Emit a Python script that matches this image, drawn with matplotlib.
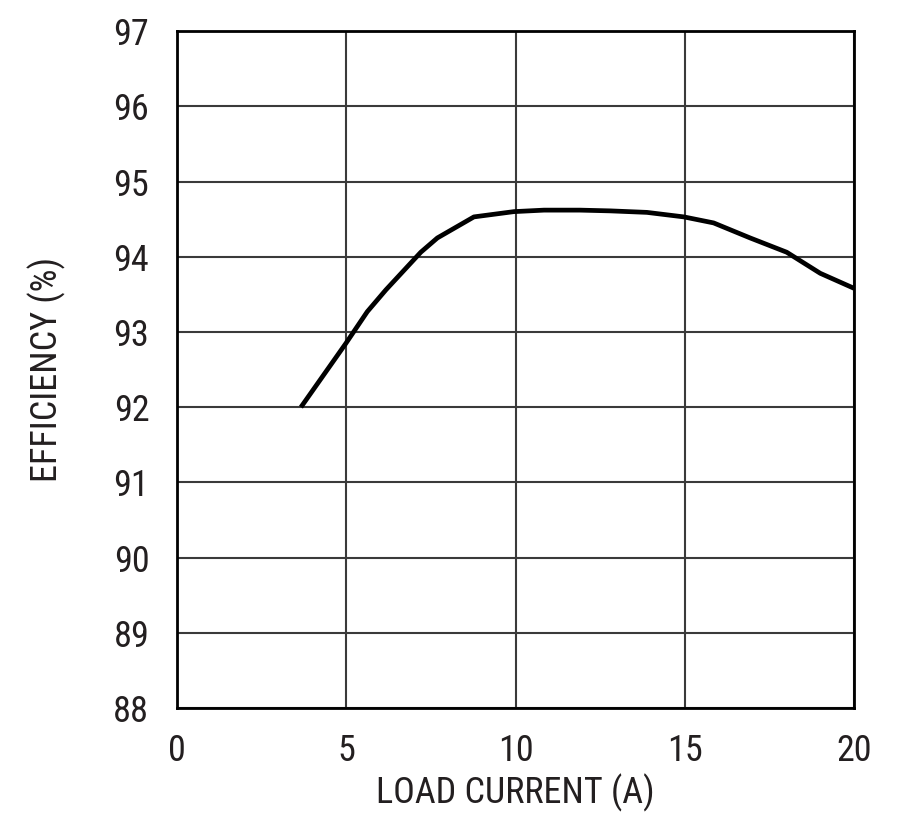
import matplotlib
matplotlib.use("Agg")
import matplotlib.pyplot as plt
from matplotlib import font_manager

# Look for a condensed sans face (the reference uses a narrow Helvetica-like font)
cand = None
pref = ['Liberation Sans Narrow', 'Roboto Condensed', 'Open Sans Condensed', 'Noto Sans Condensed',
        'DejaVu Sans Condensed', 'Arial Narrow']
entries = font_manager.fontManager.ttflist
for p in pref:
    for f in entries:
        if f.name == p and f.style == 'normal' and f.weight in (400, 'normal', 'regular'):
            cand = f.fname
            break
    if cand:
        break
if cand is None:
    for f in entries:
        st = str(f.stretch)
        if (st in ('condensed', 'semi-condensed', 'extra-condensed') or 'Narrow' in f.name or 'Condensed' in f.name
                or 'Condensed' in f.fname or 'Narrow' in f.fname) and f.style == 'normal' \
                and f.weight in (400, 'normal', 'regular') and 'Mono' not in f.name and 'Serif' not in f.name:
            cand = f.fname
            break

plt.rcParams['font.family'] = ['Liberation Sans', 'DejaVu Sans']
if cand:
    fp = font_manager.FontProperties(fname=cand)
else:
    fp = font_manager.FontProperties(family=['Liberation Sans', 'DejaVu Sans'])

load_current = [3.66, 4.99, 5.62, 6.17, 7.2, 7.69, 8.77, 9.95, 10.84, 11.9, 12.8,
                13.88, 14.97, 15.85, 16.93, 18.01, 19.0, 20.0]
efficiency = [92.0, 92.85, 93.27, 93.56, 94.06, 94.25, 94.53, 94.6, 94.62, 94.62, 94.61,
              94.59, 94.53, 94.45, 94.25, 94.06, 93.78, 93.58]
x_ticks = [0, 5, 10, 15, 20]
y_ticks = [88, 89, 90, 91, 92, 93, 94, 95, 96, 97]

fig = plt.figure(figsize=(9, 8.19), dpi=100)
ax = fig.add_axes([0.1967, 0.1355, 0.7523, 0.8265])
ax.plot(load_current, efficiency, color='black', lw=3.4, solid_capstyle='butt', zorder=3)
ax.set_xlim(0, 20)
ax.set_ylim(88, 97)
ax.set_xticks(x_ticks)
ax.set_yticks(y_ticks)
ax.grid(True, color='#3a3a3a', lw=1.5)
for s in ax.spines.values():
    s.set_linewidth(2.0)
    s.set_color('black')
ax.tick_params(axis='x', length=0, colors='#231f20', pad=18)
ax.tick_params(axis='y', length=0, colors='#231f20', pad=20)
for lab in ax.get_xticklabels() + ax.get_yticklabels():
    lab.set_fontproperties(fp)
    lab.set_fontsize(26)
ax.set_xlabel('LOAD CURRENT (A)', fontproperties=fp, fontsize=26, color='#231f20', labelpad=3)
ax.set_ylabel('EFFICIENCY (%)', fontproperties=fp, fontsize=26, color='#231f20', labelpad=34)
fig.savefig('out.png', dpi=100)
